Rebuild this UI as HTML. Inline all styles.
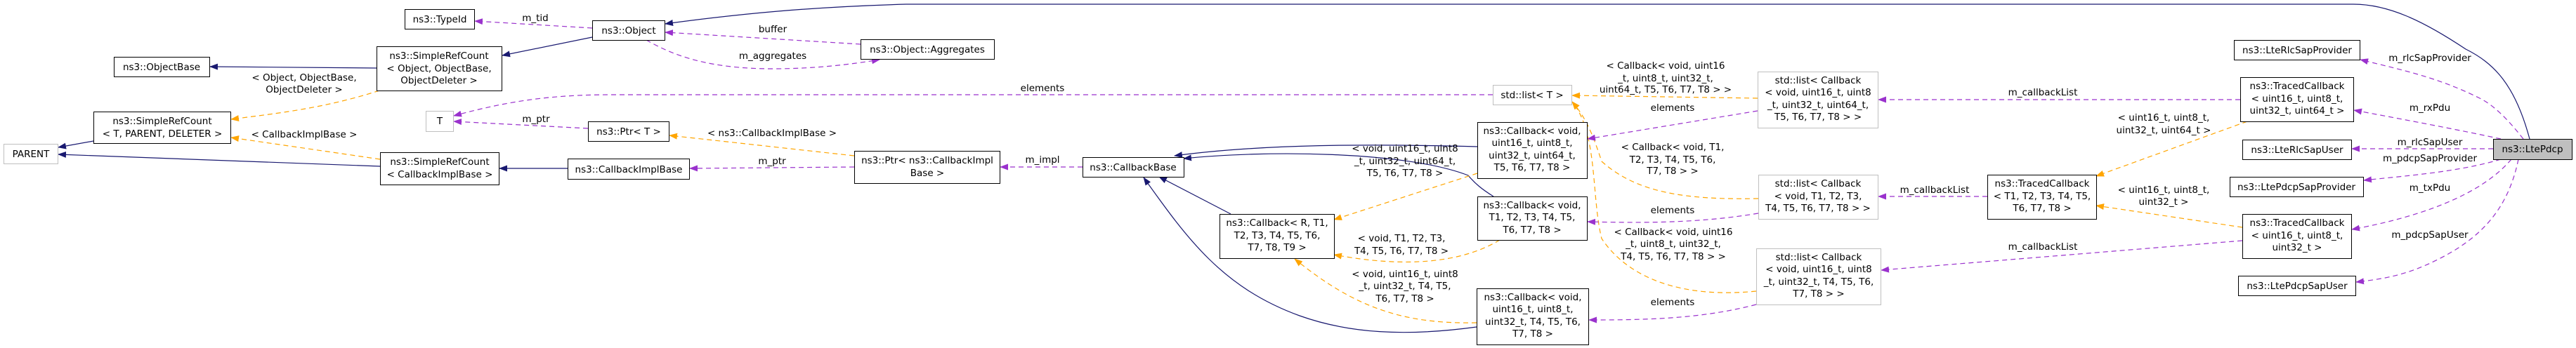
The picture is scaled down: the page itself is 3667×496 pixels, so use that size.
<!DOCTYPE html>
<html><head><meta charset="utf-8"><style>
html,body{margin:0;padding:0;background:#fff;}
svg{display:block;}
text{font-family:"DejaVu Sans","Liberation Sans",sans-serif;font-size:13.5px;fill:#000;}
.n{fill:#fff;stroke:#000;stroke-width:1;}
.g{fill:#fff;stroke:#bfbfbf;stroke-width:1;}
.b{fill:none;stroke:#191970;stroke-width:1.2;}
.p{fill:none;stroke:#9a32cd;stroke-width:1.2;stroke-dasharray:7,5;}
.o{fill:none;stroke:#ffa500;stroke-width:1.2;stroke-dasharray:7,5;}
</style></head><body>
<svg width="3667" height="496" viewBox="0 0 3667 496" xmlns="http://www.w3.org/2000/svg">
<defs>
<marker id="mb" markerWidth="12" markerHeight="9" refX="11" refY="4.5" orient="auto" markerUnits="userSpaceOnUse"><path d="M0,0 L12,4.5 L0,9 Z" fill="#191970"/></marker>
<marker id="mp" markerWidth="12" markerHeight="9" refX="11" refY="4.5" orient="auto" markerUnits="userSpaceOnUse"><path d="M0,0 L12,4.5 L0,9 Z" fill="#9a32cd"/></marker>
<marker id="mo" markerWidth="12" markerHeight="9" refX="11" refY="4.5" orient="auto" markerUnits="userSpaceOnUse"><path d="M0,0 L12,4.5 L0,9 Z" fill="#ffa500"/></marker>
</defs>

<!-- edges -->
<path class="b" marker-end="url(#mb)" d="M536,97 L299,95"/>
<path class="b" marker-end="url(#mb)" d="M843,53 L715,79"/>
<path class="p" marker-end="url(#mp)" d="M843,40 L676,30"/>
<path class="p" marker-end="url(#mp)" d="M1225,63 L947,46"/>
<path class="p" marker-end="url(#mp)" d="M920,57 C960,80 1010,98 1100,98 C1160,98 1210,92 1252,85"/>
<path class="o" marker-end="url(#mo)" d="M540,129 C460,155 390,162 329,170"/>
<path class="o" marker-end="url(#mo)" d="M541,227 C460,215 390,205 329,196"/>
<path class="b" marker-end="url(#mb)" d="M133,201 L83,210"/>
<path class="b" marker-end="url(#mb)" d="M541,237 L83,220"/>
<path class="b" marker-end="url(#mb)" d="M808,240 L711,240"/>
<path class="p" marker-end="url(#mp)" d="M837,183 L646,173"/>
<path class="p" marker-end="url(#mp)" d="M2125,135 L870,135 C780,135 720,145 646,165"/>
<path class="o" marker-end="url(#mo)" d="M1216,222 L953,193"/>
<path class="p" marker-end="url(#mp)" d="M1216,238 L982,240"/>
<path class="p" marker-end="url(#mp)" d="M1541,238 L1424,238"/>
<path class="b" marker-end="url(#mb)" d="M2103,209 C1950,205 1800,205 1672,222"/>
<path class="b" marker-end="url(#mb)" d="M2126,280 C2110,270 2100,262 2090,250 C2000,215 1800,214 1685,226"/>
<path class="b" marker-end="url(#mb)" d="M1752,305 L1650,252"/>
<path class="b" marker-end="url(#mb)" d="M2102,466 C2000,480 1920,475 1850,450 C1740,410 1690,340 1628,253"/>
<path class="o" marker-end="url(#mo)" d="M2103,247 L1899,313"/>
<path class="o" marker-end="url(#mo)" d="M2135,342 C2080,375 2000,382 1899,363"/>
<path class="o" marker-end="url(#mo)" d="M2102,460 C2000,462 1930,440 1843,369"/>
<path class="o" marker-end="url(#mo)" d="M2502,140 L2238,136"/>
<path class="o" marker-end="url(#mo)" d="M2503,283 C2400,285 2330,275 2280,230 C2270,200 2260,170 2238,145"/>
<path class="o" marker-end="url(#mo)" d="M2500,415 C2400,425 2320,400 2280,340 C2265,280 2275,190 2238,145"/>
<path class="p" marker-end="url(#mp)" d="M2502,158 L2260,198"/>
<path class="p" marker-end="url(#mp)" d="M2503,304 C2420,318 2340,318 2260,316"/>
<path class="p" marker-end="url(#mp)" d="M2500,434 C2420,455 2340,456 2262,456"/>
<path class="p" marker-end="url(#mp)" d="M3189,142 L2674,142"/>
<path class="p" marker-end="url(#mp)" d="M2829,280 L2674,280"/>
<path class="p" marker-end="url(#mp)" d="M3192,343 L2678,385"/>
<path class="o" marker-end="url(#mo)" d="M3199,173 L2984,251"/>
<path class="o" marker-end="url(#mo)" d="M3192,324 L2984,293"/>
<path class="p" marker-end="url(#mp)" d="M3592,198 C3570,170 3550,150 3530,140 C3470,110 3420,100 3360,85"/>
<path class="p" marker-end="url(#mp)" d="M3560,198 C3500,185 3420,170 3351,157"/>
<path class="p" marker-end="url(#mp)" d="M3549,212 L3348,212"/>
<path class="p" marker-end="url(#mp)" d="M3560,227 C3500,245 3430,250 3365,257"/>
<path class="p" marker-end="url(#mp)" d="M3575,227 C3530,280 3440,310 3348,327"/>
<path class="p" marker-end="url(#mp)" d="M3585,227 C3570,300 3530,340 3470,370 C3430,390 3400,397 3354,402"/>
<path class="b" marker-end="url(#mb)" d="M3601,198 C3580,120 3550,90 3510,70 C3450,30 3400,6 3350,6 L1290,6 C1150,10 1050,20 947,34"/>

<!-- edge labels -->
<g text-anchor="middle">
<text x="762" y="30">m_tid</text>
<text x="1100" y="46">buffer</text>
<text x="1100" y="84">m_aggregates</text>
<text x="433" y="115">&lt; Object, ObjectBase,</text>
<text x="433" y="132">ObjectDeleter &gt;</text>
<text x="433" y="196">&lt; CallbackImplBase &gt;</text>
<text x="763" y="174">m_ptr</text>
<text x="1484" y="130">elements</text>
<text x="1099" y="194">&lt; ns3::CallbackImplBase &gt;</text>
<text x="1099" y="234">m_ptr</text>
<text x="1484" y="232">m_impl</text>
<text x="2000" y="216">&lt; void, uint16_t, uint8</text>
<text x="2000" y="234">_t, uint32_t, uint64_t,</text>
<text x="2000" y="251">T5, T6, T7, T8 &gt;</text>
<text x="1995" y="344">&lt; void, T1, T2, T3,</text>
<text x="1995" y="362">T4, T5, T6, T7, T8 &gt;</text>
<text x="2000" y="395">&lt; void, uint16_t, uint8</text>
<text x="2000" y="412">_t, uint32_t, T4, T5,</text>
<text x="2000" y="430">T6, T7, T8 &gt;</text>
<text x="2371" y="98">&lt; Callback&lt; void, uint16</text>
<text x="2371" y="116">_t, uint8_t, uint32_t,</text>
<text x="2371" y="132">uint64_t, T5, T6, T7, T8 &gt; &gt;</text>
<text x="2381" y="158">elements</text>
<text x="2381" y="214">&lt; Callback&lt; void, T1,</text>
<text x="2381" y="232">T2, T3, T4, T5, T6,</text>
<text x="2381" y="248">T7, T8 &gt; &gt;</text>
<text x="2381" y="304">elements</text>
<text x="2382" y="335">&lt; Callback&lt; void, uint16</text>
<text x="2382" y="352">_t, uint8_t, uint32_t,</text>
<text x="2382" y="370">T4, T5, T6, T7, T8 &gt; &gt;</text>
<text x="2381" y="435">elements</text>
<text x="2908" y="136">m_callbackList</text>
<text x="2754" y="275">m_callbackList</text>
<text x="2908" y="356">m_callbackList</text>
<text x="3080" y="172">&lt; uint16_t, uint8_t,</text>
<text x="3080" y="190">uint32_t, uint64_t &gt;</text>
<text x="3080" y="275">&lt; uint16_t, uint8_t,</text>
<text x="3080" y="292">uint32_t &gt;</text>
<text x="3459" y="87">m_rlcSapProvider</text>
<text x="3459" y="158">m_rxPdu</text>
<text x="3459" y="207">m_rlcSapUser</text>
<text x="3459" y="230">m_pdcpSapProvider</text>
<text x="3459" y="272">m_txPdu</text>
<text x="3459" y="339">m_pdcpSapUser</text>
</g>

<!-- nodes -->
<rect class="n" x="576.5" y="13.5" width="99" height="28"/>
<rect class="n" x="162.5" y="81.5" width="136" height="28"/>
<rect class="n" x="133.5" y="159.5" width="195" height="45"/>
<rect class="g" x="5.5" y="205.5" width="77" height="28"/>
<rect class="n" x="536.5" y="66.5" width="178" height="63"/>
<rect class="g" x="606.5" y="158.5" width="39" height="29"/>
<rect class="n" x="541.5" y="217.5" width="169" height="46"/>
<rect class="n" x="843.5" y="29.5" width="103" height="28"/>
<rect class="n" x="1225.5" y="56.5" width="190" height="28"/>
<rect class="n" x="837.5" y="173.5" width="115" height="28"/>
<rect class="n" x="808.5" y="226.5" width="173" height="29"/>
<rect class="n" x="1216.5" y="215.5" width="207" height="46"/>
<rect class="n" x="1541.5" y="224.5" width="144" height="28"/>
<rect class="n" x="1736.5" y="305.5" width="163" height="63"/>
<rect class="g" x="2125.5" y="121.5" width="112" height="28"/>
<rect class="n" x="2103.5" y="174.5" width="156" height="80"/>
<rect class="n" x="2103.5" y="280.5" width="156" height="62"/>
<rect class="n" x="2102.5" y="411.5" width="159" height="80"/>
<rect class="g" x="2502.5" y="102.5" width="171" height="80"/>
<rect class="g" x="2503.5" y="249.5" width="170" height="63"/>
<rect class="g" x="2500.5" y="354.5" width="177" height="80"/>
<rect class="n" x="2829.5" y="249.5" width="155" height="63"/>
<rect class="n" x="3180.5" y="57.5" width="179" height="28"/>
<rect class="n" x="3189.5" y="110.5" width="161" height="63"/>
<rect class="n" x="3192.5" y="199.5" width="155" height="28"/>
<rect class="n" x="3174.5" y="252.5" width="190" height="28"/>
<rect class="n" x="3192.5" y="305.5" width="155" height="63"/>
<rect class="n" x="3186.5" y="393.5" width="167" height="28"/>
<rect x="3549.5" y="198.5" width="112" height="29" fill="#bfbfbf" stroke="#000"/>

<g text-anchor="middle">
<text x="626" y="32">ns3::TypeId</text>
<text x="230" y="100">ns3::ObjectBase</text>
<text x="231" y="177">ns3::SimpleRefCount</text>
<text x="231" y="195">&lt; T, PARENT, DELETER &gt;</text>
<text x="44" y="224">PARENT</text>
<text x="625" y="84">ns3::SimpleRefCount</text>
<text x="625" y="102">&lt; Object, ObjectBase,</text>
<text x="625" y="119">ObjectDeleter &gt;</text>
<text x="626" y="177">T</text>
<text x="626" y="235">ns3::SimpleRefCount</text>
<text x="626" y="253">&lt; CallbackImplBase &gt;</text>
<text x="895" y="48">ns3::Object</text>
<text x="1320" y="75">ns3::Object::Aggregates</text>
<text x="895" y="192">ns3::Ptr&lt; T &gt;</text>
<text x="895" y="246">ns3::CallbackImplBase</text>
<text x="1320" y="233">ns3::Ptr&lt; ns3::CallbackImpl</text>
<text x="1320" y="251">Base &gt;</text>
<text x="1613" y="243">ns3::CallbackBase</text>
<text x="1818" y="322">ns3::Callback&lt; R, T1,</text>
<text x="1818" y="340">T2, T3, T4, T5, T6,</text>
<text x="1818" y="357">T7, T8, T9 &gt;</text>
<text x="2181" y="140">std::list&lt; T &gt;</text>
<text x="2181" y="191">ns3::Callback&lt; void,</text>
<text x="2181" y="208">uint16_t, uint8_t,</text>
<text x="2181" y="226">uint32_t, uint64_t,</text>
<text x="2181" y="243">T5, T6, T7, T8 &gt;</text>
<text x="2181" y="297">ns3::Callback&lt; void,</text>
<text x="2181" y="314">T1, T2, T3, T4, T5,</text>
<text x="2181" y="332">T6, T7, T8 &gt;</text>
<text x="2182" y="428">ns3::Callback&lt; void,</text>
<text x="2182" y="445">uint16_t, uint8_t,</text>
<text x="2182" y="463">uint32_t, T4, T5, T6,</text>
<text x="2182" y="480">T7, T8 &gt;</text>
<text x="2588" y="119">std::list&lt; Callback</text>
<text x="2588" y="136">&lt; void, uint16_t, uint8</text>
<text x="2588" y="154">_t, uint32_t, uint64_t,</text>
<text x="2588" y="171">T5, T6, T7, T8 &gt; &gt;</text>
<text x="2588" y="266">std::list&lt; Callback</text>
<text x="2588" y="284">&lt; void, T1, T2, T3,</text>
<text x="2588" y="301">T4, T5, T6, T7, T8 &gt; &gt;</text>
<text x="2589" y="371">std::list&lt; Callback</text>
<text x="2589" y="388">&lt; void, uint16_t, uint8</text>
<text x="2589" y="406">_t, uint32_t, T4, T5, T6,</text>
<text x="2589" y="423">T7, T8 &gt; &gt;</text>
<text x="2907" y="266">ns3::TracedCallback</text>
<text x="2907" y="284">&lt; T1, T2, T3, T4, T5,</text>
<text x="2907" y="301">T6, T7, T8 &gt;</text>
<text x="3270" y="76">ns3::LteRlcSapProvider</text>
<text x="3270" y="127">ns3::TracedCallback</text>
<text x="3270" y="145">&lt; uint16_t, uint8_t,</text>
<text x="3270" y="162">uint32_t, uint64_t &gt;</text>
<text x="3270" y="218">ns3::LteRlcSapUser</text>
<text x="3269" y="271">ns3::LtePdcpSapProvider</text>
<text x="3270" y="322">ns3::TracedCallback</text>
<text x="3270" y="340">&lt; uint16_t, uint8_t,</text>
<text x="3270" y="357">uint32_t &gt;</text>
<text x="3270" y="412">ns3::LtePdcpSapUser</text>
<text x="3605" y="217">ns3::LtePdcp</text>
</g>
</svg>
</body></html>
